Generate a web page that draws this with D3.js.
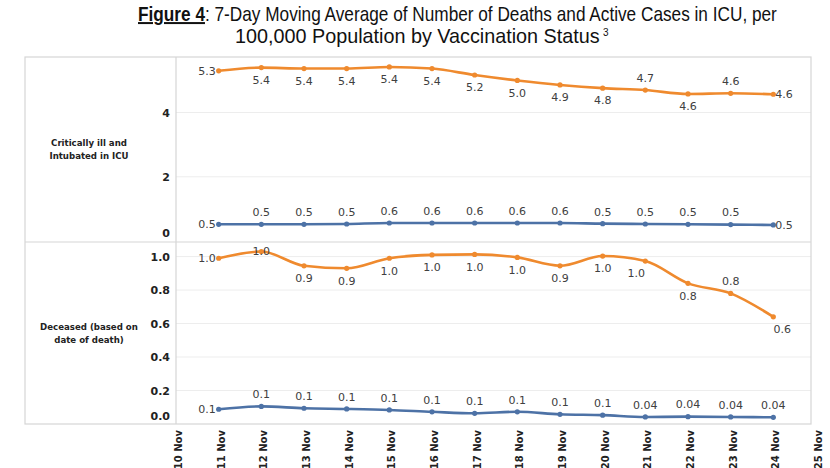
<!DOCTYPE html>
<html>
<head>
<meta charset="utf-8">
<script src="https://cdn.jsdelivr.net/npm/d3@7"></script>
<style>
  body { margin: 0; background: #fff; }
  svg { display: block; }
</style>
</head>
<body>
<svg id="chart" width="830" height="468"></svg>
<script>
// 7-day moving average, ICU and deaths per 100k, by vaccination status
const days = ["10 Nov", "11 Nov", "12 Nov", "13 Nov", "14 Nov", "15 Nov", "16 Nov", "17 Nov",
  "18 Nov", "19 Nov", "20 Nov", "21 Nov", "22 Nov", "23 Nov", "24 Nov", "25 Nov"];
// data runs 11 Nov .. 24 Nov
const dataDays = days.slice(1, 15);

const icuUnvax = [5.3, 5.4, 5.37, 5.37, 5.42, 5.37, 5.17, 5.0, 4.86, 4.76, 4.7, 4.58, 4.6, 4.57];
const icuVax = [0.52, 0.52, 0.52, 0.53, 0.56, 0.56, 0.56, 0.56, 0.56, 0.54, 0.53, 0.52, 0.51, 0.5];
const deathUnvax = [0.99, 1.03, 0.945, 0.93, 0.99, 1.01, 1.013, 0.995, 0.945, 1.003, 0.973, 0.84, 0.78, 0.64];
const deathVax = [0.088, 0.105, 0.094, 0.09, 0.084, 0.073, 0.064, 0.073, 0.058, 0.053, 0.042, 0.044, 0.042, 0.04];

// where each value label sits relative to its point
const icuUnvaxPos = ["left", "below", "below", "below", "below", "below", "below", "below", "below", "below", "above", "below", "above", "right"];
const icuVaxPos = ["left", "above", "above", "above", "above", "above", "above", "above", "above", "above", "above", "above", "above", "right"];
const deathUnvaxPos = ["left", "on", "below", "below", "below", "below", "below", "below", "below", "below", "belowL", "below", "above", "belowR"];
const deathVaxPos = ["left", "above", "above", "above", "above", "above", "above", "above", "above", "above", "above", "above", "above", "above"];

const svg = d3.select("#chart");
const orange = "#ef8a2e";
const blue = "#4d72a6";
const boxLeft = 25, boxRight = 811, divX = 176;
const top0 = 57, mid = 242, bottom0 = 424;

const x = d3.scalePoint().domain(days).range([divX, 816]);
const yTop = d3.scaleLinear().domain([0, 5.73]).range([241, top0]);
const yBot = d3.scaleLinear().domain([0, 1.087]).range([bottom0, mid]);

// Title: Arial-like font squeezed to the narrow width of the original
function titleLine(build, x0, x1, baseline) {
  const g = svg.append("g");
  const t = g.append("text")
    .attr("font-family", "Liberation Sans, Arial, sans-serif")
    .attr("font-size", 20)
    .attr("fill", "#111");
  build(t);
  const s = (x1 - x0) / t.node().getComputedTextLength();
  g.attr("transform", `translate(${x0},${baseline}) scale(${s},1)`);
}
titleLine((t) => {
  t.append("tspan").attr("font-weight", "bold").style("text-decoration", "underline").text("Figure 4");
  t.append("tspan").text(": 7-Day Moving Average of Number of Deaths and Active Cases in ICU, per");
}, 138, 777, 21);
titleLine((t) => {
  t.append("tspan").text("100,000 Population by Vaccination Status");
}, 235, 600, 43);
svg.append("text")
  .attr("x", 603).attr("y", 36)
  .attr("font-family", "Liberation Sans, Arial, sans-serif")
  .attr("font-size", 10).attr("fill", "#111")
  .text("3");

// Gridlines
const grid = svg.append("g").attr("stroke", "#ededed").attr("stroke-width", 1);
grid.selectAll("line.gt").data([2, 4]).join("line")
  .attr("x1", divX).attr("x2", boxRight)
  .attr("y1", (d) => yTop(d)).attr("y2", (d) => yTop(d));
grid.selectAll("line.gb").data([0.2, 0.4, 0.6, 0.8, 1.0]).join("line")
  .attr("x1", divX).attr("x2", boxRight)
  .attr("y1", (d) => yBot(d)).attr("y2", (d) => yBot(d));

// Frame
const frame = svg.append("g").attr("stroke", "#d6d6d6").attr("stroke-width", 1.2).attr("fill", "none");
frame.append("rect").attr("x", boxLeft).attr("y", top0).attr("width", boxRight - boxLeft).attr("height", bottom0 - top0);
frame.append("line").attr("x1", boxLeft).attr("x2", boxRight).attr("y1", mid).attr("y2", mid);
frame.append("line").attr("x1", divX).attr("x2", divX).attr("y1", top0).attr("y2", bottom0);

// Y axes
function yAxis(scale, ticks, fmt) {
  const g = svg.append("g")
    .attr("transform", `translate(${divX - 6},0)`)
    .call(d3.axisLeft(scale).tickValues(ticks).tickSize(0).tickPadding(0).tickFormat(fmt));
  g.select(".domain").remove();
  g.selectAll("text")
    .attr("font-family", "DejaVu Sans, sans-serif")
    .attr("font-size", 11)
    .attr("font-weight", "bold")
    .attr("fill", "#222")
    .attr("dy", (d) => (d === 0 ? "-0.4em" : "0.32em"));
}
yAxis(yTop, [0, 2, 4], d3.format("d"));
yAxis(yBot, [0, 0.2, 0.4, 0.6, 0.8, 1.0], d3.format(".1f"));

// Panel labels
const panelLabels = [
  { lines: ["Critically ill and", "Intubated in ICU"], y: 143 },
  { lines: ["Deceased (based on", "date of death)"], y: 327 },
];
panelLabels.forEach((p) => {
  const t = svg.append("text")
    .attr("font-family", "DejaVu Sans, sans-serif")
    .attr("font-size", 8.6)
    .attr("font-weight", "bold")
    .attr("fill", "#222")
    .attr("text-anchor", "middle");
  p.lines.forEach((s, i) => {
    t.append("tspan").attr("x", 89).attr("y", p.y + i * 13).attr("dy", "0.35em").text(s);
  });
});

// X axis labels (rotated)
const xg = svg.append("g")
  .attr("transform", "translate(2,430)")
  .call(d3.axisBottom(x).tickSize(0));
xg.select(".domain").remove();
xg.selectAll("text")
  .attr("font-family", "DejaVu Sans, sans-serif")
  .attr("font-size", 10)
  .attr("font-weight", "bold")
  .attr("fill", "#222")
  .attr("transform", "rotate(-90)")
  .attr("text-anchor", "end")
  .attr("x", 0)
  .attr("y", 0)
  .attr("dy", "0.35em");

// Series
function fmt(v) {
  return v >= 0.05 ? v.toFixed(1) : v.toFixed(2);
}
function drawSeries(values, pos, y, color) {
  const pts = values.map((v, i) => ({ day: dataDays[i], v, pos: pos[i] }));
  const line = d3.line().x((d) => x(d.day)).y((d) => y(d.v)).curve(d3.curveMonotoneX);
  svg.append("path")
    .datum(pts)
    .attr("d", line)
    .attr("fill", "none")
    .attr("stroke", color)
    .attr("stroke-width", 2.6);
  svg.append("g").selectAll("circle").data(pts).join("circle")
    .attr("cx", (d) => x(d.day))
    .attr("cy", (d) => y(d.v))
    .attr("r", 2.6)
    .attr("fill", color);
  svg.append("g").selectAll("text").data(pts).join("text")
    .attr("font-family", "DejaVu Sans, sans-serif")
    .attr("font-size", 11)
    .attr("fill", "#404040")
    .attr("dy", "0.35em")
    .attr("x", (d) => {
      const cx = x(d.day);
      if (d.pos === "left") return cx - 3;
      if (d.pos === "right") return cx + 2;
      if (d.pos === "belowL") return cx - 9;
      if (d.pos === "belowR") return cx + 9;
      return cx;
    })
    .attr("y", (d) => {
      const cy = y(d.v);
      if (d.pos === "above") return cy - 12;
      if (d.pos.startsWith("below")) return cy + 12.5;
      return cy;
    })
    .attr("text-anchor", (d) => (d.pos === "left" ? "end" : d.pos === "right" ? "start" : "middle"))
    .text((d) => fmt(d.v));
}
drawSeries(icuUnvax, icuUnvaxPos, yTop, orange);
drawSeries(icuVax, icuVaxPos, yTop, blue);
drawSeries(deathUnvax, deathUnvaxPos, yBot, orange);
drawSeries(deathVax, deathVaxPos, yBot, blue);
</script>
</body>
</html>
